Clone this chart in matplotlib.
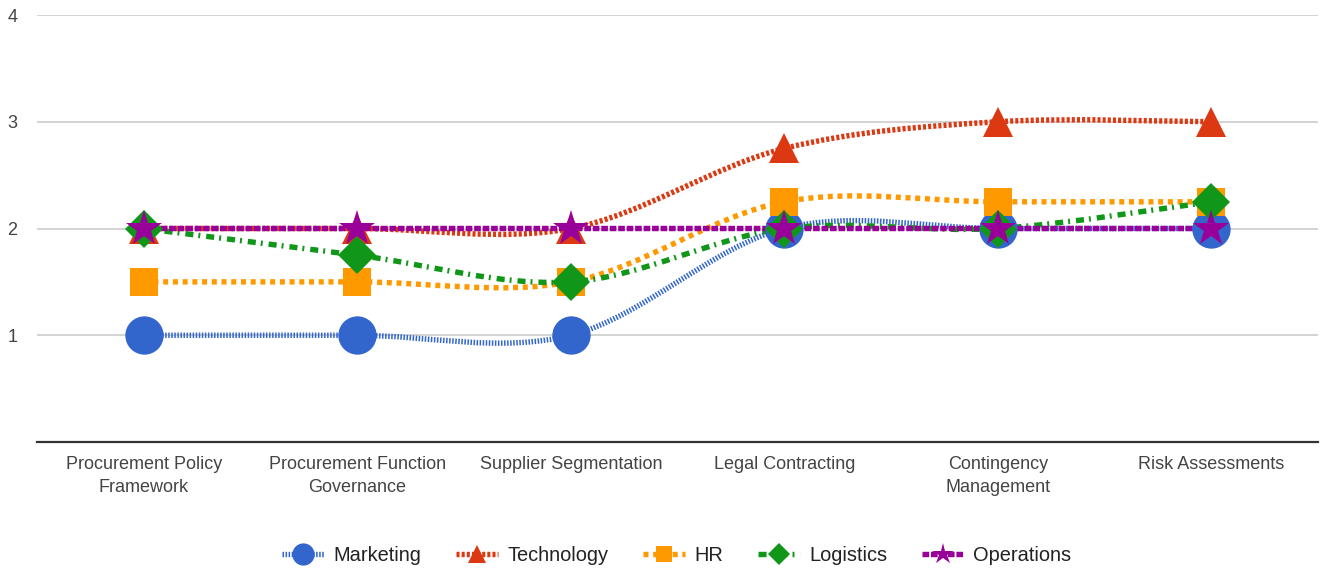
import matplotlib
matplotlib.use('Agg')
import matplotlib.pyplot as plt
from matplotlib.path import Path
from matplotlib.patches import PathPatch
from matplotlib.lines import Line2D

plt.rcParams['font.family'] = ['Liberation Sans', 'DejaVu Sans']
plt.rcParams['lines.scale_dashes'] = False

# Data
categories = ['Procurement Policy\nFramework', 'Procurement Function\nGovernance',
              'Supplier Segmentation', 'Legal Contracting',
              'Contingency\nManagement', 'Risk Assessments']
series_names = ['Marketing', 'Technology', 'HR', 'Logistics', 'Operations']
marketing = [1, 1, 1, 2, 2, 2]
technology = [2, 2, 2, 2.75, 3, 3]
hr = [1.5, 1.5, 1.5, 2.25, 2.25, 2.25]
logistics = [2, 1.75, 1.5, 2, 2, 2.25]
operations = [2, 2, 2, 2, 2, 2]
y_ticks = [1, 2, 3, 4]

values = [marketing, technology, hr, logistics, operations]
colors = ['#3366CC', '#DC3912', '#FF9900', '#109618', '#990099']
markers = ['o', '^', 's', 'D', '*']
marker_sizes = [27.6, 21.5, 20, 19.5, 27.5]
dashes = [(0, (1.1, 1.1)), (0, (2.2, 1.5)), (0, (3.6, 3.4)),
          (0, (5.8, 3.6, 1.4, 4.3)), (0, (4.8, 1.3))]
lw = 3.9


def smooth_path(xs, ys):
    # Catmull-Rom style curve through the points (like curveType 'function')
    pts = list(zip(xs, ys))
    n = len(pts)
    verts = [pts[0]]
    codes = [Path.MOVETO]
    for i in range(n - 1):
        p0 = pts[max(i - 1, 0)]
        p1 = pts[i]
        p2 = pts[i + 1]
        p3 = pts[min(i + 2, n - 1)]
        c1 = (p1[0] + (p2[0] - p0[0]) / 6, p1[1] + (p2[1] - p0[1]) / 6)
        c2 = (p2[0] - (p3[0] - p1[0]) / 6, p2[1] - (p3[1] - p1[1]) / 6)
        verts += [c1, c2, p2]
        codes += [Path.CURVE4] * 3
    return Path(verts, codes)


fig = plt.figure(figsize=(13.22, 5.73), dpi=100)
ax = fig.add_axes([37 / 1322, 1 - 442 / 573, (1318 - 37) / 1322, (442 - 15) / 573])

x = list(range(len(categories)))
for i, (name, vals) in enumerate(zip(series_names, values)):
    patch = PathPatch(smooth_path(x, vals), fill=False, edgecolor=colors[i],
                      linewidth=lw, linestyle=dashes[i], capstyle='butt',
                      zorder=2 + i * 0.1)
    ax.add_patch(patch)
    ax.plot(x, vals, linestyle='none', marker=markers[i], color=colors[i],
            markersize=marker_sizes[i], markeredgewidth=0, zorder=3 + i * 0.1,
            clip_on=False)

ax.set_xlim(-0.5, len(categories) - 0.5)
ax.set_ylim(0, 4)
ax.set_yticks(y_ticks)
ax.set_xticks(x)
ax.set_xticklabels(categories, fontsize=13, color='#444444', linespacing=1.5)
ax.set_yticklabels([str(t) for t in y_ticks], fontsize=13, color='#444444')
ax.tick_params(axis='both', length=0)
ax.tick_params(axis='x', pad=10)
ax.tick_params(axis='y', pad=14)
ax.grid(axis='y', color='#cccccc', linewidth=1.2)
ax.set_axisbelow(True)
for s in ['top', 'right', 'left']:
    ax.spines[s].set_visible(False)
ax.spines['bottom'].set_color('#333333')
ax.spines['bottom'].set_linewidth(1.6)

handles = [Line2D([], [], color=colors[i], linewidth=lw, linestyle=dashes[i],
                  marker=markers[i], markersize=marker_sizes[i] * 0.58,
                  markeredgewidth=0)
           for i in range(len(series_names))]
leg = fig.legend(handles, series_names, loc='center', bbox_to_anchor=(0.512, 0.031),
                 ncol=5, frameon=False, fontsize=14.4, handlelength=2.1,
                 handletextpad=0.45, columnspacing=1.75)
for t in leg.get_texts():
    t.set_color('#222222')

fig.savefig('out.png', dpi=100)
